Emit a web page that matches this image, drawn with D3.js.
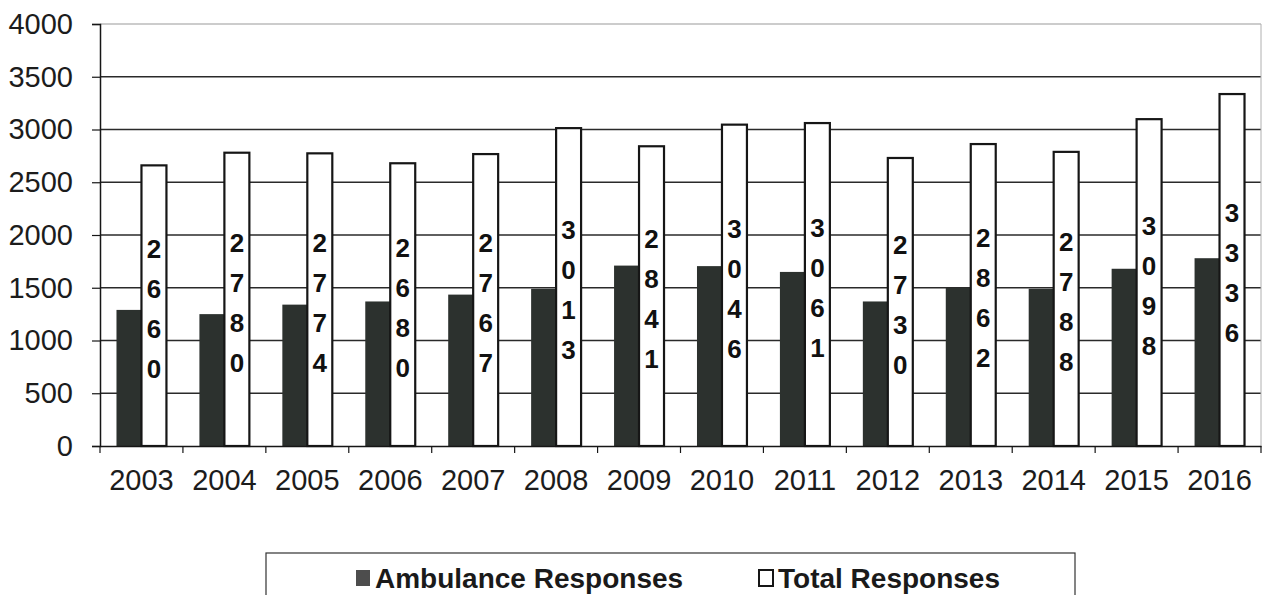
<!DOCTYPE html>
<html>
<head>
<meta charset="utf-8">
<script src="https://cdn.jsdelivr.net/npm/d3@7"></script>
<style>
  html, body { margin: 0; padding: 0; background: #fff; }
  svg { display: block; }
</style>
</head>
<body>
<svg id="chart" width="1262" height="595"></svg>
<script>
// Yearly responses
const years = ["2003", "2004", "2005", "2006", "2007", "2008", "2009",
               "2010", "2011", "2012", "2013", "2014", "2015", "2016"];
const ambulanceResponses = [1290, 1250, 1340, 1370, 1435, 1490, 1710,
                            1705, 1650, 1370, 1500, 1490, 1680, 1780];
const totalResponses = [2660, 2780, 2774, 2680, 2767, 3013, 2841,
                        3046, 3061, 2730, 2862, 2788, 3098, 3336];
const yTicks = [0, 500, 1000, 1500, 2000, 2500, 3000, 3500, 4000];
const seriesNames = ["Ambulance Responses", "Total Responses"];

const svg = d3.select("#chart");
const plot = { left: 100, right: 1261, top: 24, bottom: 446 };
const font = "'Liberation Sans', Arial, Helvetica, sans-serif";
const darkFill = "#2c312e";
const ink = "#161616";

const x = d3.scaleBand().domain(years).range([plot.left, plot.right]).padding(0);
const xs = d3.scaleBand().domain(["amb", "tot"]).range([0, x.bandwidth()])
  .paddingInner(0).paddingOuter(0.66);
const y = d3.scaleLinear().domain([0, 4000]).range([plot.bottom, plot.top]);

// horizontal gridlines
svg.append("g")
  .selectAll("line")
  .data(yTicks.filter(d => d > 0))
  .join("line")
  .attr("x1", plot.left).attr("x2", plot.right)
  .attr("y1", d => y(d)).attr("y2", d => y(d))
  .attr("stroke", d => d === 4000 ? "#9a9a9a" : "#2a2a2a")
  .attr("stroke-width", d => d === 4000 ? 1.2 : 1.3);

// right border of plot area
svg.append("line")
  .attr("x1", plot.right).attr("x2", plot.right)
  .attr("y1", plot.top).attr("y2", plot.bottom)
  .attr("stroke", "#b0b0b0").attr("stroke-width", 1);

// y axis
const yAxis = svg.append("g")
  .attr("transform", `translate(${plot.left},0)`)
  .call(d3.axisLeft(y).tickValues(yTicks).tickSize(8).tickPadding(19).tickFormat(d3.format("d")));
yAxis.select(".domain").attr("stroke", ink).attr("stroke-width", 1.5);
yAxis.selectAll(".tick line").attr("stroke", ink).attr("stroke-width", 1.2);
yAxis.selectAll("text")
  .attr("font-family", font).attr("font-size", 29).attr("fill", "#1c1c1c");

// ambulance bars
svg.append("g")
  .selectAll("rect")
  .data(years)
  .join("rect")
  .attr("x", (d) => x(d) + xs("amb"))
  .attr("width", xs.bandwidth())
  .attr("y", (d, i) => y(ambulanceResponses[i]))
  .attr("height", (d, i) => y(0) - y(ambulanceResponses[i]))
  .attr("fill", darkFill);

// total bars
svg.append("g")
  .selectAll("rect")
  .data(years)
  .join("rect")
  .attr("x", (d) => x(d) + xs("tot"))
  .attr("width", xs.bandwidth())
  .attr("y", (d, i) => y(totalResponses[i]))
  .attr("height", (d, i) => y(0) - y(totalResponses[i]))
  .attr("fill", "#fff")
  .attr("stroke", ink)
  .attr("stroke-width", 2.2);

// stacked-digit value labels centred in each total bar
const lineGap = 40;
const labels = svg.append("g")
  .attr("font-family", font).attr("font-weight", "bold")
  .attr("font-size", 26).attr("fill", "#111")
  .attr("text-anchor", "middle");
years.forEach((yr, i) => {
  const digits = String(totalResponses[i]).split("");
  const cx = x(yr) + xs("tot") + xs.bandwidth() / 2;
  const cy = (y(totalResponses[i]) + y(0)) / 2 + 3;
  const startY = cy - (digits.length - 1) * lineGap / 2;
  labels.selectAll(null)
    .data(digits)
    .join("text")
    .attr("x", cx)
    .attr("y", (d, k) => startY + k * lineGap)
    .attr("dy", "0.36em")
    .text(d => d);
});

// x axis
const xAxis = svg.append("g")
  .attr("transform", `translate(0,${plot.bottom})`)
  .call(d3.axisBottom(x).tickSize(0).tickPadding(23));
xAxis.select(".domain").attr("stroke", ink).attr("stroke-width", 1.5);
xAxis.selectAll("text")
  .attr("font-family", font).attr("font-size", 29).attr("fill", "#1c1c1c");
// category separator ticks
xAxis.append("g")
  .selectAll("line")
  .data(years.concat(["end"]))
  .join("line")
  .attr("x1", (d, i) => i < years.length ? x(d) : plot.right)
  .attr("x2", (d, i) => i < years.length ? x(d) : plot.right)
  .attr("y1", 0).attr("y2", 7)
  .attr("stroke", ink).attr("stroke-width", 1.2);

// legend
const legend = svg.append("g");
legend.append("rect")
  .attr("x", 266).attr("y", 553).attr("width", 809).attr("height", 60)
  .attr("fill", "#fff").attr("stroke", "#333").attr("stroke-width", 1.2);
const legendItems = [
  { name: seriesNames[0], x: 356, fill: "#4d4d4d", stroke: "none" },
  { name: seriesNames[1], x: 759, fill: "#fff", stroke: ink }
];
legendItems.forEach(item => {
  legend.append("rect")
    .attr("x", item.x).attr("y", 570).attr("width", 14).attr("height", 16)
    .attr("fill", item.fill).attr("stroke", item.stroke).attr("stroke-width", 2);
  legend.append("text")
    .attr("x", item.x + 19).attr("y", 588)
    .attr("font-family", font).attr("font-weight", "bold").attr("font-size", 28)
    .attr("fill", "#1a1a1a")
    .text(item.name);
});
</script>
</body>
</html>
